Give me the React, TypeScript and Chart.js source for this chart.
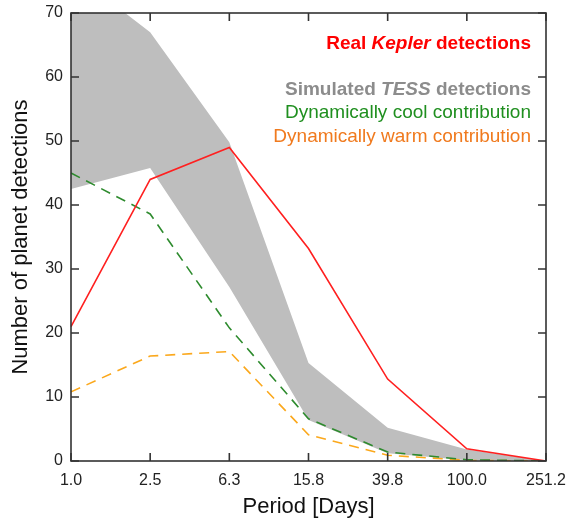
import React, { useEffect, useRef } from "react";
import { Chart, registerables } from "chart.js";

Chart.register(...registerables);

const periods = ["1.0", "2.5", "6.3", "15.8", "39.8", "100.0", "251.2"];
const keplerReal = [21, 44, 49, 33.2, 12.8, 1.9, 0];
const tessUpper = [76.5, 67, 49.8, 15.3, 5.2, 1.8, 0];
const tessLower = [42.5, 45.8, 27.2, 6.4, 1.2, 0.1, 0];
const coolContribution = [45, 38.6, 20.8, 6.6, 1.4, 0.2, 0];
const warmContribution = [10.8, 16.4, 17.1, 4.1, 0.9, 0.1, 0];
const yTicks = [0, 10, 20, 30, 40, 50, 60, 70];

const FONT = "'Liberation Sans', Arial, Helvetica, sans-serif";

type Run = { text: string; style: string };
const legendLines: { runs: Run[]; color: string }[] = [
  {
    color: "#ff0000",
    runs: [
      { text: "Real ", style: "bold" },
      { text: "Kepler", style: "italic bold" },
      { text: " detections", style: "bold" },
    ],
  },
  {
    color: "#8c8c8c",
    runs: [
      { text: "Simulated ", style: "bold" },
      { text: "TESS", style: "italic bold" },
      { text: " detections", style: "bold" },
    ],
  },
  { color: "#1f8f1f", runs: [{ text: "Dynamically cool contribution", style: "normal" }] },
  { color: "#f07a1e", runs: [{ text: "Dynamically warm contribution", style: "normal" }] },
];
const legendY = [44, 90, 113, 137];

const framePlugin = {
  id: "frame",
  afterDraw(chart: any) {
    const { ctx, chartArea, scales } = chart;
    const { left, right, top, bottom } = chartArea;
    ctx.save();
    ctx.strokeStyle = "#333333";
    ctx.lineWidth = 1.6;
    ctx.strokeRect(left, top, right - left, bottom - top);
    const tl = 8;
    ctx.beginPath();
    periods.forEach((_, i) => {
      const x = scales.x.getPixelForValue(i);
      ctx.moveTo(x, bottom);
      ctx.lineTo(x, bottom - tl);
      ctx.moveTo(x, top);
      ctx.lineTo(x, top + tl);
    });
    yTicks.forEach((v) => {
      const y = scales.y.getPixelForValue(v);
      ctx.moveTo(left, y);
      ctx.lineTo(left + tl, y);
      ctx.moveTo(right, y);
      ctx.lineTo(right - tl, y);
    });
    ctx.stroke();

    // legend text
    const size = 19;
    const xRight = 531;
    ctx.textBaseline = "middle";
    ctx.textAlign = "left";
    legendLines.forEach((line, li) => {
      let total = 0;
      const widths = line.runs.map((r) => {
        ctx.font = `${r.style} ${size}px ${FONT}`;
        const w = ctx.measureText(r.text).width;
        total += w;
        return w;
      });
      let x = xRight - total;
      ctx.fillStyle = line.color;
      line.runs.forEach((r, i) => {
        ctx.font = `${r.style} ${size}px ${FONT}`;
        ctx.fillText(r.text, x, legendY[li]);
        x += widths[i];
      });
    });
    ctx.restore();
  },
};

export default function App() {
  const ref = useRef<HTMLCanvasElement>(null);
  useEffect(() => {
    document.body.style.margin = "0";
    const canvas = ref.current!;
    const chart = new Chart(canvas, {
      type: "line",
      data: {
        labels: periods,
        datasets: [
          {
            data: keplerReal,
            borderColor: "#ff2020",
            borderWidth: 1.6,
            pointRadius: 0,
            fill: false,
            tension: 0,
          },
          {
            data: coolContribution,
            borderColor: "#2e8b2e",
            borderWidth: 1.6,
            borderDash: [10, 7],
            pointRadius: 0,
            fill: false,
          },
          {
            data: warmContribution,
            borderColor: "#fba81c",
            borderWidth: 1.6,
            borderDash: [10, 7],
            pointRadius: 0,
            fill: false,
          },
          {
            data: tessUpper,
            borderWidth: 0,
            borderColor: "rgba(0,0,0,0)",
            backgroundColor: "#bebebe",
            pointRadius: 0,
            fill: "+1",
          },
          {
            data: tessLower,
            borderWidth: 0,
            borderColor: "rgba(0,0,0,0)",
            backgroundColor: "#bebebe",
            pointRadius: 0,
            fill: false,
          },
        ],
      },
      options: {
        animation: false,
        responsive: false,
        layout: { padding: { left: 0, right: 25, top: 13, bottom: 0 } },
        plugins: { legend: { display: false }, tooltip: { enabled: false } },
        scales: {
          x: {
            type: "category",
            offset: false,
            grid: { display: false, drawTicks: false },
            border: { display: false },
            ticks: {
              color: "#222",
              font: { family: FONT, size: 16 },
              padding: 10,
              maxRotation: 0,
              autoSkip: false,
            },
            title: {
              display: true,
              text: "Period [Days]",
              color: "#111",
              font: { family: FONT, size: 22, lineHeight: 1 },
              padding: { top: 0, bottom: 1 },
            },
            afterFit: (s: any) => {
              s.height = 58;
              s.paddingLeft = 0;
              s.paddingRight = 0;
            },
          },
          y: {
            min: 0,
            max: 70,
            grid: { display: false, drawTicks: false },
            border: { display: false },
            ticks: {
              stepSize: 10,
              color: "#222",
              font: { family: FONT, size: 16 },
              padding: 8,
            },
            title: {
              display: true,
              text: "Number of planet detections",
              color: "#111",
              font: { family: FONT, size: 22, lineHeight: 1 },
              padding: { top: 10, bottom: 0 },
            },
            afterFit: (s: any) => {
              s.width = 71;
              s.paddingTop = 0;
              s.paddingBottom = 0;
            },
          },
        },
      },
      plugins: [framePlugin],
    });
    return () => chart.destroy();
  }, []);
  return <canvas ref={ref} width={571} height={519} style={{ display: "block" }} />;
}
